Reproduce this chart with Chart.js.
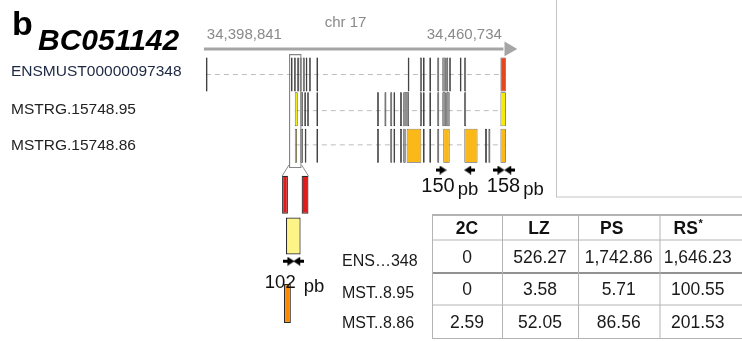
<!DOCTYPE html>
<html>
<head>
<meta charset="utf-8">
<script src="https://cdn.jsdelivr.net/npm/chart.js@4.4.1/dist/chart.umd.min.js"></script>
<style>
  html, body { margin: 0; padding: 0; background: #ffffff; }
  canvas { display: block; }
</style>
</head>
<body>
<canvas id="fig" width="742" height="341"></canvas>
<script>
// ---- Gene model: BC051142 on chr 17; exon positions in kb from the region start ----
const PANEL = 'b';
const GENE = 'BC051142';
const CHROM = 'chr 17';
const REGION = [34398841, 34460734];
const TRANSCRIPTS = ['ENSMUST00000097348', 'MSTRG.15748.95', 'MSTRG.15748.86'];
const SHORT_NAMES = ['ENS\u2026348', 'MST..8.95', 'MST..8.86'];

const ensExons = [[0, 0.35], [17.55, 17.90], [18.20, 18.55], [18.85, 19.20], [19.35, 19.76],
  [20.00, 20.40], [20.60, 20.95], [21.30, 21.65], [22.80, 23.15], [41.65, 42.00],
  [44.15, 44.56], [44.80, 45.15], [46.10, 46.45], [47.75, 48.15], [48.79, 49.50],
  [49.60, 50.00], [50.20, 50.55], [52.40, 52.75], [53.30, 53.70]];
const ensHighlight = [[60.78, 61.89]];

const mst95Exons = [[19.50, 20.06], [20.30, 20.65], [20.90, 21.25], [22.80, 23.15],
  [35.30, 35.70], [36.85, 37.25], [38.05, 38.45], [38.70, 39.05], [40.05, 40.45],
  [40.73, 41.93], [44.15, 44.56], [44.80, 45.15], [46.10, 46.45], [47.75, 48.15],
  [48.79, 49.50], [49.60, 50.30], [53.30, 53.70]];
const mst95Highlight = [[18.35, 18.95], [60.78, 61.89]];

const mst86Exons = [[19.50, 20.06], [20.40, 20.75], [22.80, 23.15], [35.30, 35.70],
  [38.05, 38.45], [38.70, 39.05], [40.05, 40.45], [40.73, 41.23], [44.80, 45.15],
  [46.10, 46.45], [47.75, 48.15], [57.60, 58.00], [58.30, 58.70]];
const mst86Highlight = [[18.35, 18.80], [41.43, 44.45], [48.99, 50.30], [53.33, 56.05], [60.78, 61.89]];

// Enlarged view of the first exon cluster (kb window and the exons inside it)
const zoomWindow = [17.14, 19.76];
const ensZoom = [[17.14, 17.72], [19.08, 19.76]];
const mst95Zoom = [[17.53, 18.98]];
const mst86Zoom = [[17.33, 18.01]];

// RT-PCR primer pairs (kb) and product sizes (bp)
const primerFwd = [48.53, 60.48];
const primerRev = [54.43, 62.70];
const productSize = [150, 158];
const zoomPrimerFwd = [17.82];
const zoomPrimerRev = [18.79];
const zoomProductSize = [102];

// Expression per stage
const STAGES = ['2C', 'LZ', 'PS', 'RS*'];
const ensExpr = [0, 526.27, 1742.86, 1646.23];
const mst95Expr = [0, 3.58, 5.71, 100.55];
const mst86Expr = [2.59, 52.05, 86.56, 201.53];

// ---- Layout (canvas pixels) ----
const W = 742, H = 341;
const FONT = '"Liberation Sans", Arial, Helvetica, sans-serif';
const LAYOUT = {
  regionPx: [202, 509],
  zoomPx: [280, 307],
  rowY: [69.5, 106, 144.5],
  rowH: 34,
  boxY: [51, 165],
  zoomTop: 176,
  zoomRowY: [196, 239.5, 310.5],
  zoomRowH: [38, 37, 39],
  rulerY: 42.5,
  rulerKb: [-0.4, 61.4],
  arrowKb: 62.5,
  primerY: 170,
  zoomPrimerY: 266,
  productDx: [-34, -17.5],
  zoomProductDx: [-29],
  labelBase: [76, 114, 150],
  headerShift: [0, -1, -7, -9],
  table: { cols: [432, 502, 578, 659.5, 736], rows: [215, 240, 273, 305, 338.5], right: 742,
           labelX: 342, labelY: [260, 291.5, 321.5] }
};

const regionKb = (REGION[1] - REGION[0]) / 1000;
const kbPerPx = regionKb / (LAYOUT.regionPx[1] - LAYOUT.regionPx[0]);
const zoomKbPerPx = (zoomWindow[1] - zoomWindow[0]) / (LAYOUT.zoomPx[1] - LAYOUT.zoomPx[0]);

const COLORS = {
  exonFill: '#8e8e8e', exonEdge: '#262626',
  ens: '#e6461c', mst95: '#f3ea0a', mst86: '#fbb819',
  zoomEns: '#e01b1b', zoomMst95: '#fdf487', zoomMst86: '#fb8a00',
  intron: '#bdbdbd', ruler: '#a5a5a5', grayText: '#8a8a8a'
};

function bars(label, ranges, y, h, fill, edge, bw, axis) {
  return {
    type: 'bar', label, indexAxis: 'y', grouped: false,
    xAxisID: axis || 'x', yAxisID: 'y',
    data: ranges.map(r => ({ x: [r[0], r[1]], y })),
    barThickness: h, maxBarThickness: h,
    backgroundColor: fill, borderColor: edge, borderWidth: bw,
    borderSkipped: false, borderRadius: 0, inflateAmount: 0
  };
}

function segment(label, x0, x1, y, color, width, dash) {
  return {
    type: 'line', label, xAxisID: 'x', yAxisID: 'y',
    data: [{ x: x0, y }, { x: x1, y }],
    borderColor: color, borderWidth: width, borderDash: dash || [],
    pointRadius: 0, fill: false, tension: 0
  };
}

function arrowImage(dir) {
  const c = document.createElement('canvas');
  c.width = 11; c.height = 9;
  const g = c.getContext('2d');
  if (dir < 0) { g.translate(11, 0); g.scale(-1, 1); }
  g.fillStyle = '#000';
  g.fillRect(0, 3, 5, 3);
  g.beginPath(); g.moveTo(4, 0); g.lineTo(11, 4.5); g.lineTo(4, 9); g.closePath(); g.fill();
  return c;
}
const ARROW_R = arrowImage(1), ARROW_L = arrowImage(-1);

function primers(label, kbs, y, img, axis) {
  return {
    type: 'scatter', label, xAxisID: axis, yAxisID: 'y',
    data: kbs.map(k => ({ x: k, y })),
    pointStyle: img, pointRadius: 5, showLine: false
  };
}

function span(ranges) {
  return [Math.min(...ranges.map(r => r[0])), Math.max(...ranges.map(r => r[1]))];
}

const allEns = ensExons.concat(ensHighlight);
const all95 = mst95Exons.concat(mst95Highlight);
const all86 = mst86Exons.concat(mst86Highlight);
const [R0, R1, R2] = LAYOUT.rowY;
const [Z0, Z1, Z2] = LAYOUT.zoomRowY;
const ZH = LAYOUT.zoomRowH;

const datasets = [
  primers('fwd primers', primerFwd, LAYOUT.primerY, ARROW_R, 'x'),
  primers('rev primers', primerRev, LAYOUT.primerY, ARROW_L, 'x'),
  primers('zoom fwd primers', zoomPrimerFwd, LAYOUT.zoomPrimerY, ARROW_R, 'xZoom'),
  primers('zoom rev primers', zoomPrimerRev, LAYOUT.zoomPrimerY, ARROW_L, 'xZoom'),
  {
    type: 'scatter', label: 'ruler head', xAxisID: 'x', yAxisID: 'y',
    data: [{ x: LAYOUT.arrowKb, y: LAYOUT.rulerY }],
    pointStyle: 'triangle', rotation: 90, pointRadius: 8.5,
    backgroundColor: COLORS.ruler, borderWidth: 0
  },
  bars('zoom box', [zoomWindow], (LAYOUT.boxY[0] + LAYOUT.boxY[1]) / 2,
       LAYOUT.boxY[1] - LAYOUT.boxY[0], 'rgba(0,0,0,0)', '#858585', 1.2),
  bars(TRANSCRIPTS[0] + ' highlight', ensHighlight, R0, LAYOUT.rowH, COLORS.ens, '#4a4a4a', 0.8),
  bars(TRANSCRIPTS[1] + ' highlight', mst95Highlight, R1, LAYOUT.rowH, COLORS.mst95, '#4a4a4a', 0.8),
  bars(TRANSCRIPTS[2] + ' highlight', mst86Highlight, R2, LAYOUT.rowH, COLORS.mst86, '#4a4a4a', 0.8),
  bars(TRANSCRIPTS[0], ensExons, R0, LAYOUT.rowH, COLORS.exonFill, COLORS.exonEdge, 0.8),
  bars(TRANSCRIPTS[1], mst95Exons, R1, LAYOUT.rowH, COLORS.exonFill, COLORS.exonEdge, 0.8),
  bars(TRANSCRIPTS[2], mst86Exons, R2, LAYOUT.rowH, COLORS.exonFill, COLORS.exonEdge, 0.8),
  bars(SHORT_NAMES[0] + ' zoom', ensZoom, Z0, ZH[0], COLORS.zoomEns, '#2a2a2a', 1.2, 'xZoom'),
  bars(SHORT_NAMES[1] + ' zoom', mst95Zoom, Z1, ZH[1], COLORS.zoomMst95, '#2a2a2a', 1.2, 'xZoom'),
  bars(SHORT_NAMES[2] + ' zoom', mst86Zoom, Z2, ZH[2], COLORS.zoomMst86, '#2a2a2a', 1.2, 'xZoom'),
  segment('ruler', LAYOUT.rulerKb[0], LAYOUT.rulerKb[1], LAYOUT.rulerY, COLORS.ruler, 3),
  segment('intron ' + TRANSCRIPTS[0], ...span(allEns), R0, COLORS.intron, 1, [5, 4]),
  segment('intron ' + TRANSCRIPTS[1], ...span(all95), R1 + 1.5, COLORS.intron, 1, [5, 4]),
  segment('intron ' + TRANSCRIPTS[2], ...span(all86), R2 - 1, COLORS.intron, 1, [5, 4])
];

function fmt(v) {
  if (v === 0) return '0';
  const [i, d] = v.toFixed(2).split('.');
  return i.replace(/\B(?=(\d{3})+(?!\d))/g, ',') + '.' + d;
}

function text(ctx, s, x, y, font, color, align, baseline) {
  ctx.font = font;
  ctx.fillStyle = color;
  ctx.textAlign = align || 'left';
  ctx.textBaseline = baseline || 'alphabetic';
  ctx.fillText(s, x, y);
}

const figureText = {
  id: 'figureText',
  beforeDatasetsDraw(chart) {
    const ctx = chart.ctx;
    ctx.save();
    ctx.strokeStyle = '#c4c4c4';
    ctx.lineWidth = 1;
    ctx.strokeRect(556.5, -2, 300, 199);
    ctx.restore();
  },
  afterDatasetsDraw(chart) {
    const ctx = chart.ctx;
    const x = chart.scales.x, xz = chart.scales.xZoom;
    ctx.save();

    // panel letter and gene name
    text(ctx, PANEL, 12, 35, 'bold 34px ' + FONT, '#000');
    text(ctx, GENE, 38, 50, 'italic bold 30px ' + FONT, '#000');

    // coordinate ruler labels
    const fmtInt = n => String(n).replace(/\B(?=(\d{3})+(?!\d))/g, ',');
    text(ctx, fmtInt(REGION[0]), x.getPixelForValue(0) + 1, 38.5, '15px ' + FONT, COLORS.grayText);
    text(ctx, fmtInt(REGION[1]), x.getPixelForValue(regionKb) - 4, 38.5, '15px ' + FONT, COLORS.grayText, 'right');
    text(ctx, CHROM, 345.5, 27, '15px ' + FONT, COLORS.grayText, 'center');

    // transcript names
    TRANSCRIPTS.forEach((t, i) => {
      text(ctx, t, 11, LAYOUT.labelBase[i], '15.5px ' + FONT, i === 0 ? '#1c2742' : '#222', 'left');
    });

    // connectors from the boxed cluster to its enlarged view
    ctx.strokeStyle = '#8c8c8c';
    ctx.lineWidth = 1;
    ctx.beginPath();
    ctx.moveTo(x.getPixelForValue(zoomWindow[0]), LAYOUT.boxY[1]);
    ctx.lineTo(xz.getPixelForValue(zoomWindow[0]), LAYOUT.zoomTop);
    ctx.moveTo(x.getPixelForValue(zoomWindow[1]), LAYOUT.boxY[1]);
    ctx.lineTo(xz.getPixelForValue(zoomWindow[1]), LAYOUT.zoomTop);
    ctx.stroke();

    // PCR product sizes
    const product = (scale, f, r, size, dx, numPx, base, gap, pbDy) => {
      const cx = (scale.getPixelForValue(f) + scale.getPixelForValue(r)) / 2;
      const left = cx + dx;
      ctx.font = numPx + 'px ' + FONT;
      const wNum = ctx.measureText(String(size)).width;
      text(ctx, String(size), left, base, numPx + 'px ' + FONT, '#111');
      text(ctx, 'pb', left + wNum + gap, base + pbDy, '18.5px ' + FONT, '#111');
    };
    productSize.forEach((s, i) => product(x, primerFwd[i], primerRev[i], s, LAYOUT.productDx[i], 20, 191.5, 3, 3.5));
    zoomProductSize.forEach((s, i) => product(xz, zoomPrimerFwd[i], zoomPrimerRev[i], s, LAYOUT.zoomProductDx[i], 18.5, 288, 8, 3.5));

    // expression table
    const T = LAYOUT.table;
    T.rows.forEach((y, i) => {
      ctx.strokeStyle = i === 2 ? '#6e6e6e' : (i === 0 ? '#9a9a9a' : '#b4b4b4');
      ctx.lineWidth = i === 2 ? 1.6 : (i === 0 ? 1.4 : 1);
      ctx.beginPath(); ctx.moveTo(T.cols[0], y); ctx.lineTo(T.right, y); ctx.stroke();
    });
    ctx.strokeStyle = '#b4b4b4'; ctx.lineWidth = 1;
    T.cols.slice(0, 4).forEach(cx => {
      ctx.beginPath(); ctx.moveTo(cx + 0.5, T.rows[0]); ctx.lineTo(cx + 0.5, T.rows[4]); ctx.stroke();
    });
    const colC = i => (T.cols[i] + T.cols[i + 1]) / 2;
    const rowC = j => (T.rows[j] + T.rows[j + 1]) / 2;
    STAGES.forEach((s, i) => {
      const star = s.endsWith('*');
      const main = star ? s.slice(0, -1) : s;
      ctx.font = 'bold 17.5px ' + FONT;
      const w1 = ctx.measureText(main).width;
      const w2 = star ? 6 : 0;
      const left = colC(i) + LAYOUT.headerShift[i] - (w1 + w2) / 2;
      text(ctx, main, left, rowC(0) + 6.5, 'bold 17.5px ' + FONT, '#111');
      if (star) text(ctx, '*', left + w1 + 0.5, rowC(0) - 0.5, 'bold 11px ' + FONT, '#111');
    });
    [ensExpr, mst95Expr, mst86Expr].forEach((vals, j) => {
      vals.forEach((v, i) => {
        text(ctx, fmt(v), colC(i), rowC(j + 1) + 6, '17.5px ' + FONT, '#1a1a1a', 'center');
      });
      text(ctx, SHORT_NAMES[j], T.labelX, T.labelY[j] + 6, '16px ' + FONT, '#1a1a1a', 'left');
    });

    ctx.restore();
  }
};

new Chart(document.getElementById('fig'), {
  type: 'bar',
  data: { datasets },
  options: {
    responsive: false,
    animation: false,
    events: [],
    layout: { padding: 0 },
    plugins: { legend: { display: false }, tooltip: { enabled: false }, title: { display: false } },
    scales: {
      x: {
        type: 'linear', axis: 'x', display: false, offset: false,
        min: -LAYOUT.regionPx[0] * kbPerPx,
        max: (W - LAYOUT.regionPx[0]) * kbPerPx
      },
      xZoom: {
        type: 'linear', axis: 'x', display: false, offset: false,
        min: zoomWindow[0] - LAYOUT.zoomPx[0] * zoomKbPerPx,
        max: zoomWindow[0] + (W - LAYOUT.zoomPx[0]) * zoomKbPerPx
      },
      y: {
        type: 'linear', axis: 'y', display: false, offset: false, reverse: true,
        min: 0, max: H, ticks: { count: 2 }
      }
    }
  },
  plugins: [figureText]
});
</script>
</body>
</html>
